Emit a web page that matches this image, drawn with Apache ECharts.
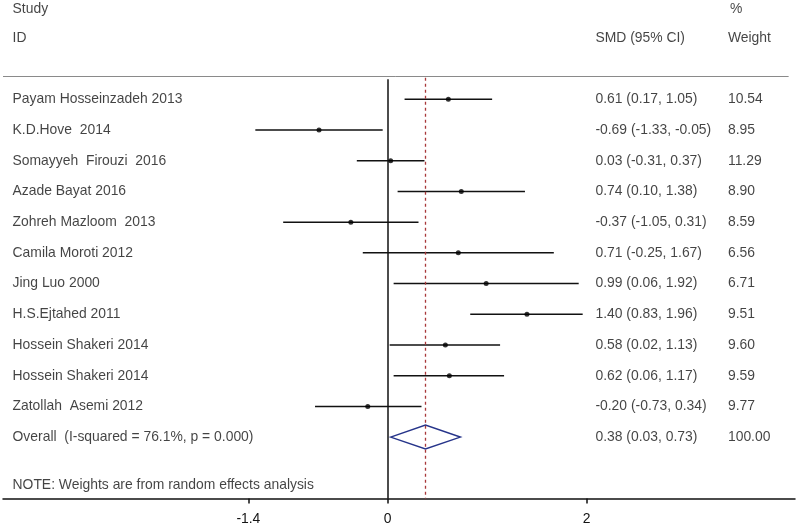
<!DOCTYPE html>
<html>
<head>
<meta charset="utf-8">
<script src="https://cdn.jsdelivr.net/npm/echarts@6/dist/echarts.min.js"></script>
<style>html,body{margin:0;padding:0;background:#fff}#c{width:800px;height:530px}</style>
</head>
<body>
<div id="c"></div>
<script>
const studies = ['Payam Hosseinzadeh 2013','K.D.Hove  2014','Somayyeh  Firouzi  2016','Azade Bayat 2016','Zohreh Mazloom  2013','Camila Moroti 2012','Jing Luo 2000','H.S.Ejtahed 2011','Hossein Shakeri 2014','Hossein Shakeri 2014','Zatollah  Asemi 2012'];
const smd   = [0.61, -0.69, 0.03, 0.74, -0.37, 0.71, 0.99, 1.40, 0.58, 0.62, -0.20];
const lower = [0.17, -1.33, -0.31, 0.10, -1.05, -0.25, 0.06, 0.83, 0.02, 0.06, -0.73];
const upper = [1.05, -0.05, 0.37, 1.38, 0.31, 1.67, 1.92, 1.96, 1.13, 1.17, 0.34];
const weights = [10.54, 8.95, 11.29, 8.90, 8.59, 6.56, 6.71, 9.51, 9.60, 9.59, 9.77];
const overallLabel = 'Overall  (I-squared = 76.1%, p = 0.000)';
const overallEst = 0.38, overallLo = 0.03, overallHi = 0.73, overallWeight = 100.00;
const xTicks = [-1.4, 0, 2];
const noteText = 'NOTE: Weights are from random effects analysis';

const FONT = '"Liberation Sans", Arial, sans-serif';
const TXT = '#141414';
const FS = 13.9;
const colName = -3.77, colSmd = 2.088, colW = 3.42;
const rowStudy = -2.93, rowID = -2.0;
const nOv = studies.length;
const rowNote = 12.56;

function fmt(e, l, h) { return e.toFixed(2) + ' (' + l.toFixed(2) + ', ' + h.toFixed(2) + ')'; }

const textItems = [];
function addText(x, y, t) { textItems.push({ value: [x, y], txt: t }); }
addText(colName, rowStudy, 'Study');
addText(colName, rowID, 'ID');
addText(colSmd, rowID, 'SMD (95% CI)');
addText(colW + 0.02, rowStudy, '%');
addText(colW, rowID, 'Weight');
studies.forEach((s, i) => {
  addText(colName, i, s);
  addText(colSmd, i, fmt(smd[i], lower[i], upper[i]));
  addText(colW, i, weights[i].toFixed(2));
});
addText(colName, nOv, overallLabel);
addText(colSmd, nOv, fmt(overallEst, overallLo, overallHi));
addText(colW, nOv, overallWeight.toFixed(2));
addText(colName, rowNote, noteText);

const xMin = -3.866, xMax = 4.094;
const chart = echarts.init(document.getElementById('c'), null, { renderer: 'canvas' });
chart.setOption({
  animation: false,
  backgroundColor: '#fff',
  grid: { left: 3, right: 5, top: 0, bottom: 31.5 },
  xAxis: {
    type: 'value', min: xMin, max: xMax,
    splitLine: { show: false },
    axisLine: { show: true, onZero: false, lineStyle: { color: '#111', width: 1.5 } },
    axisTick: { show: true, length: 5, lineStyle: { color: '#111', width: 1.5 }, customValues: xTicks },
    axisLabel: { show: true, margin: 14, color: TXT, fontSize: FS, fontFamily: FONT, customValues: xTicks,
      formatter: v => String(v) }
  },
  yAxis: { type: 'value', min: -3.235, max: 13, inverse: true, show: false },
  series: [
    {
      type: 'custom',
      data: studies.map((s, i) => [lower[i], upper[i], i]),
      renderItem: (params, api) => {
        const a = api.coord([api.value(0), api.value(2)]);
        const b = api.coord([api.value(1), api.value(2)]);
        return { type: 'line', shape: { x1: a[0], y1: a[1], x2: b[0], y2: b[1] }, style: { stroke: '#111', lineWidth: 1.5 } };
      },
      z: 3
    },
    {
      type: 'scatter',
      data: studies.map((s, i) => [smd[i], i]),
      symbol: 'circle', symbolSize: 5,
      itemStyle: { color: '#000' },
      z: 4
    },
    {
      type: 'custom',
      data: [[overallLo, overallEst, overallHi, nOv]],
      renderItem: (params, api) => {
        const r = api.value(3);
        const p1 = api.coord([api.value(0), r]);
        const p2 = api.coord([api.value(1), r - 0.39]);
        const p3 = api.coord([api.value(2), r]);
        const p4 = api.coord([api.value(1), r + 0.39]);
        return { type: 'polygon', shape: { points: [p1, p2, p3, p4] }, style: { fill: 'none', stroke: '#26348a', lineWidth: 1.5 } };
      },
      z: 3
    },
    {
      type: 'scatter',
      data: textItems.map(t => ({ value: t.value, txt: t.txt })),
      symbolSize: 0,
      label: { show: true, position: 'right', distance: 0, color: TXT, fontSize: FS, fontFamily: FONT,
        formatter: p => p.data.txt },
      silent: true,
      z: 5
    },
    {
      type: 'line', data: [], silent: true,
      markLine: {
        silent: true, symbol: ['none', 'none'], label: { show: false },
        data: [
          [{ coord: [0, -0.65], lineStyle: { color: '#111', width: 1.5, type: 'solid' } }, { coord: [0, 13] }],
          [{ coord: [overallEst, -0.7], lineStyle: { color: '#a8383a', width: 1.3, type: [3, 3] } }, { coord: [overallEst, 13] }],
          [{ coord: [xMin, -0.76], lineStyle: { color: '#8a8a8a', width: 1, type: 'solid' } }, { coord: [4.03, -0.76] }]
        ]
      }
    }
  ]
});
</script>
</body>
</html>
